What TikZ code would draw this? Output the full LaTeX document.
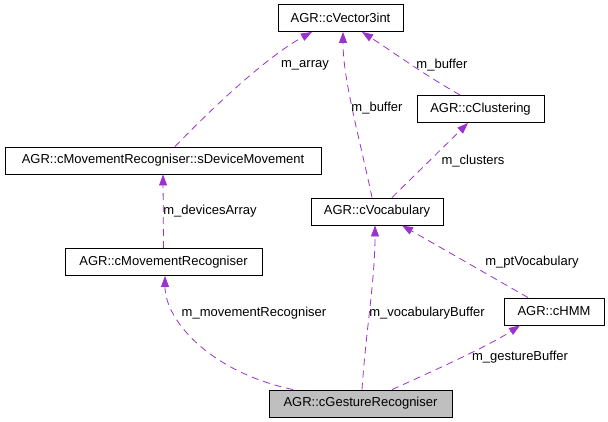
\documentclass[tikz,border=0pt]{standalone}
\usepackage{fontspec}
\setmainfont{Liberation Sans}
\usetikzlibrary{arrows.meta}
\definecolor{kantenlila}{HTML}{9A32CD}
\definecolor{boxgrau}{HTML}{BFBFBF}
\tikzset{
  klasse/.style={draw=black,line width=0.9pt,fill=white,minimum height=27pt,
    inner xsep=0pt,font=\fontsize{13}{15}\selectfont},
  kante/.style={draw=kantenlila,line width=0.8pt,dash pattern=on 7pt off 5pt,
    -{Triangle[length=11pt,width=8pt]}},
  beschr/.style={inner sep=1pt,font=\fontsize{13}{15}\selectfont}
}
\begin{document}
\begin{tikzpicture}[x=1pt,y=-1pt] % Pixel-Koordinaten, y nach unten
\useasboundingbox (0,0) rectangle (608,421);

% Klassen
\node[klasse,minimum width=125pt] (vec)  at (340.5,18)  {AGR::cVector3int};
\node[klasse,minimum width=127pt] (clu)  at (480.5,109) {AGR::cClustering};
\node[klasse,minimum width=316pt] (sdm)  at (163,160.5) {AGR::cMovementRecogniser::sDeviceMovement};
\node[klasse,minimum width=132pt] (voc)  at (377,211.5) {AGR::cVocabulary};
\node[klasse,minimum width=197pt] (mov)  at (163.5,262) {AGR::cMovementRecogniser};
\node[klasse,minimum width=100pt] (hmm)  at (554,311.5) {AGR::cHMM};
\node[klasse,minimum width=183pt,fill=boxgrau] (gest) at (360.5,403.5) {AGR::cGestureRecogniser};

% Beziehungen (Pfeil zeigt auf die benutzte Klasse)
\draw[kante] ([xshift=12pt]sdm.north) .. controls (220,100) and (270,55) .. ([xshift=-28.5pt]vec.south);
\draw[kante] ([xshift=-5pt]voc.north) .. controls (360,140) and (343,80) .. ([xshift=2.5pt]vec.south);
\draw[kante] ([xshift=-20.5pt]clu.north) .. controls (420,72) and (390,50) .. ([xshift=21.5pt]vec.south);
\draw[kante] ([xshift=15pt]voc.north) -- ([xshift=-12.5pt]clu.south);
\draw[kante] (mov.north) -- (sdm.south);
\draw[kante] ([xshift=-26pt]hmm.north) -- ([xshift=25pt]voc.south);
\draw[kante] ([xshift=-67.5pt]gest.north) .. controls (210,372) and (165,320) .. ([xshift=1.5pt]mov.south);
\draw[kante] ([xshift=1.5pt]gest.north) .. controls (366,330) and (375,280) .. ([xshift=-2pt]voc.south);
\draw[kante] ([xshift=31.5pt]gest.north) .. controls (440,368) and (490,345) .. ([xshift=-34pt]hmm.south);

% Beschriftungen
\node[beschr] (l_array)   at (305,65)  {m\_array};
\node[beschr] (l_bufa)    at (377,108) {m\_buffer};
\node[beschr] (l_bufb)    at (442,65)  {m\_buffer};
\node[beschr] (l_clust)   at (473,161) {m\_clusters};
\node[beschr] (l_devarr)  at (210,211) {m\_devicesArray};
\node[beschr] (l_ptvoc)   at (532,262) {m\_ptVocabulary};
\node[beschr] (l_movrec)  at (254,313) {m\_movementRecogniser};
\node[beschr] (l_vocbuf)  at (427,313) {m\_vocabularyBuffer};
\node[beschr] (l_gestbuf) at (520,357) {m\_gestureBuffer};
\end{tikzpicture}
\end{document}
